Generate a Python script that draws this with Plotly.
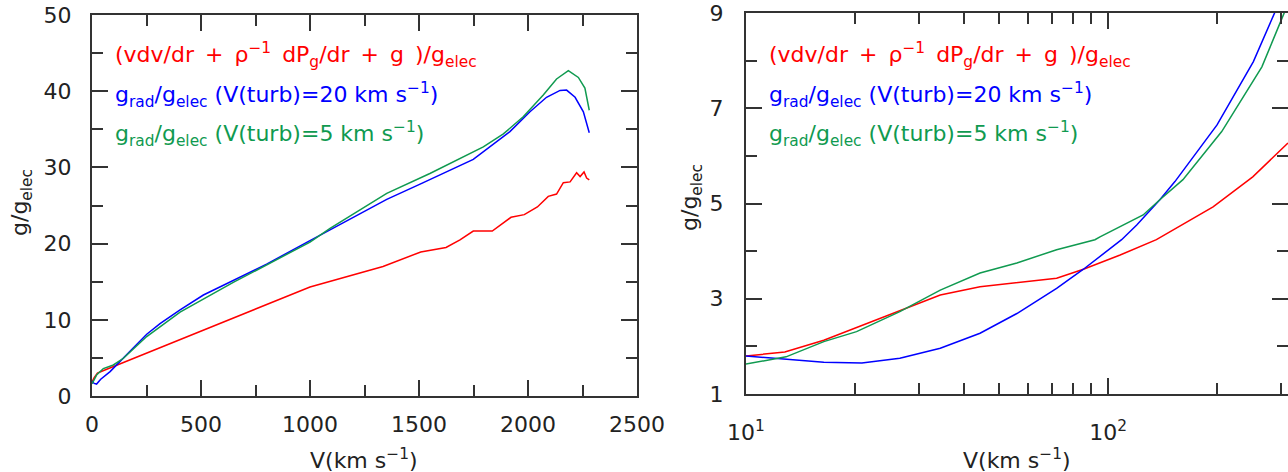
import plotly.graph_objects as go

# ---------------- data: left panel (linear V) ----------------
v_red_L = [0, 10, 25, 45, 1000, 1335, 1508, 1624, 1688, 1749, 1836, 1922, 1983,
           2043, 2093, 2131, 2162, 2193, 2223, 2239, 2257, 2269, 2281]
g_red_L = [1.85, 2.4, 3.0, 3.25, 14.3, 17.0, 18.9, 19.5, 20.5, 21.65, 21.65, 23.45, 23.8,
           24.8, 26.2, 26.5, 28.0, 28.1, 29.3, 28.8, 29.4, 28.6, 28.35]

v_blue_L = [0, 10, 21, 40, 83, 144, 251, 312, 404, 511, 648, 801, 1000, 1092, 1352, 1505,
            1749, 1917, 2009, 2085, 2147, 2177, 2216, 2254, 2281]
g_blue_L = [1.95, 1.65, 1.57, 2.2, 3.2, 4.95, 8.1, 9.5, 11.3, 13.25, 15.2, 17.3, 20.4, 21.8, 25.8, 27.8,
            31.05, 34.7, 37.3, 39.2, 40.1, 40.15, 39.2, 37.3, 34.55]

v_green_L = [0, 21, 52, 98, 144, 251, 404, 511, 648, 1000, 1092, 1352, 1550, 1795, 1887,
             1978, 2070, 2131, 2185, 2231, 2261, 2281]
g_green_L = [1.6, 2.75, 3.6, 4.07, 4.95, 7.8, 11.0, 12.75, 14.9, 20.2, 22.0, 26.6, 29.2, 32.7, 34.4,
             36.65, 39.5, 41.6, 42.7, 41.8, 40.4, 37.5]

# ---------------- data: right panel (log V) ----------------
v_red_R = [10, 12.8, 16.4, 20.2, 26.6, 34.4, 44.3, 56, 72.1, 85.5, 108, 136, 195, 251, 314]
g_red_R = [1.80, 1.88, 2.13, 2.40, 2.76, 3.08, 3.25, 3.33, 3.43, 3.62, 3.92, 4.24, 4.93, 5.56, 6.27]

v_blue_R = [10, 12.4, 16.4, 20.9, 26.6, 34.4, 44.3, 56, 72.1, 85.5, 91, 109, 120, 139, 153,
            200, 252, 288, 300]
g_blue_R = [1.80, 1.735, 1.665, 1.65, 1.75, 1.96, 2.275, 2.69, 3.22, 3.62, 3.78, 4.24, 4.55, 5.08, 5.46,
            6.65, 7.98, 9.0, 9.3]

v_green_R = [10, 12.9, 16.4, 20.2, 26.6, 34.4, 44.3, 56, 72.1, 92, 95, 125, 139, 161, 206, 266, 305, 314]
g_green_R = [1.63, 1.78, 2.10, 2.31, 2.73, 3.18, 3.54, 3.75, 4.03, 4.24, 4.30, 4.76, 5.08, 5.50, 6.51,
             7.87, 8.96, 9.2]

# tick labels
x_ticks_L = [0, 500, 1000, 1500, 2000, 2500]
y_ticks_L = [0, 10, 20, 30, 40, 50]
x_ticks_R = [10, 100]
x_ticktext_R = ["10<sup>1</sup>", "10<sup>2</sup>"]
x_minor_R = [20, 30, 40, 50, 60, 70, 80, 90, 200, 300]
y_ticks_R = [1, 3, 5, 7, 9]

SP = "\u2002"  # wider space, as in the original's lettering
legend_texts = [
    f"(vdv/dr{SP}+{SP}\u03c1<sup>\u22121</sup>{SP}dP<sub>g</sub>/dr{SP}+{SP}g{SP})/g<sub>elec</sub>",
    "g<sub>rad</sub>/g<sub>elec</sub> (V(turb)=20 km s<sup>\u22121</sup>)",
    "g<sub>rad</sub>/g<sub>elec</sub> (V(turb)=5 km s<sup>\u22121</sup>)",
]

RED, BLUE, GREEN = "#ff0000", "#0000ff", "#109a50"
AX = "#333333"
FONT = "DejaVu Sans"
W, H = 1288, 472

fig = go.Figure()
lw = 1.5
for x, y, c in [(v_red_L, g_red_L, RED), (v_blue_L, g_blue_L, BLUE), (v_green_L, g_green_L, GREEN)]:
    fig.add_trace(go.Scatter(x=x, y=y, mode="lines", line=dict(color=c, width=lw),
                             xaxis="x", yaxis="y", showlegend=False))
for x, y, c in [(v_red_R, g_red_R, RED), (v_blue_R, g_blue_R, BLUE), (v_green_R, g_green_R, GREEN)]:
    fig.add_trace(go.Scatter(x=x, y=y, mode="lines", line=dict(color=c, width=lw),
                             xaxis="x2", yaxis="y2", showlegend=False))

def px_x(p):
    return p / W

def px_y(p):
    return (H - p) / H

common = dict(showline=True, linecolor=AX, linewidth=2, mirror="ticks", ticks="inside",
              ticklen=16, tickwidth=1.5, tickcolor=AX, showgrid=False, zeroline=False,
              automargin=False, tickfont=dict(family=FONT, size=22, color="#222222"))

fig.update_layout(
    width=W, height=H, template="none", plot_bgcolor="white", paper_bgcolor="white",
    margin=dict(l=0, r=0, t=0, b=0),
    xaxis=dict(domain=[px_x(92), px_x(637)], range=[0, 2500], tickvals=x_ticks_L,
               anchor="y", ticklabelstandoff=8,
               minor=dict(dtick=250, tick0=0, ticks="inside", ticklen=11, tickwidth=1.5, tickcolor=AX),
               **common),
    yaxis=dict(domain=[px_y(396), px_y(15)], range=[0, 50], tickvals=y_ticks_L,
               anchor="x", ticklabelstandoff=14,
               minor=dict(dtick=5, tick0=0, ticks="inside", ticklen=11, tickwidth=1.5, tickcolor=AX),
               **common),
    xaxis2=dict(domain=[px_x(746), 1.0], type="log", range=[1, 2.497], tickvals=x_ticks_R,
                ticktext=x_ticktext_R, anchor="y2", ticklabelstandoff=18,
                minor=dict(tickvals=x_minor_R, ticks="inside", ticklen=11, tickwidth=1.5, tickcolor=AX),
                **common),
    yaxis2=dict(domain=[px_y(394), px_y(13)], range=[1, 9], tickvals=y_ticks_R,
                anchor="x2", ticklabelstandoff=16,
                minor=dict(dtick=1, tick0=1, ticks="inside", ticklen=11, tickwidth=1.5, tickcolor=AX),
                **common),
)

annotations = []
# legends
for x0 in (113, 767):
    for txt, c, yb in zip(legend_texts, [RED, BLUE, GREEN], [55, 95, 134]):
        annotations.append(dict(text=txt, x=px_x(x0), y=px_y(yb), xref="paper", yref="paper",
                                xanchor="left", yanchor="middle", showarrow=False,
                                font=dict(family=FONT, size=22, color=c)))
# axis titles
for xc in (364, 1017):
    annotations.append(dict(text="V(km s<sup>\u22121</sup>)", x=px_x(xc), y=px_y(459),
                            xref="paper", yref="paper", xanchor="center", yanchor="middle",
                            showarrow=False, font=dict(family=FONT, size=22, color="#222222")))
for xc, yc in ((22, 203), (691, 198)):
    annotations.append(dict(text="g/g<sub>elec</sub>", x=px_x(xc), y=px_y(yc), textangle=-90,
                            xref="paper", yref="paper", xanchor="center", yanchor="middle",
                            showarrow=False, font=dict(family=FONT, size=22, color="#222222")))
fig.update_layout(annotations=annotations)

fig.write_html("out.html")
